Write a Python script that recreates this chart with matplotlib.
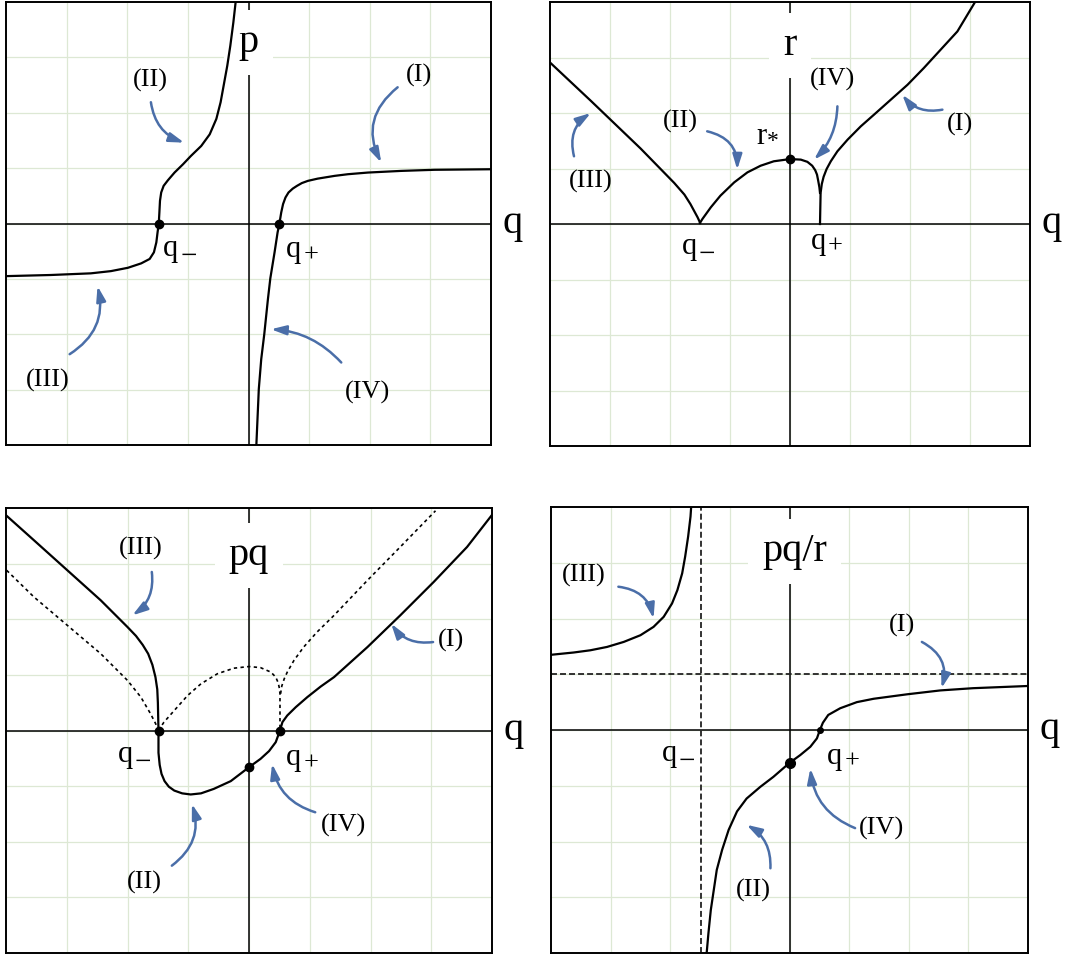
import matplotlib
matplotlib.use("Agg")
import matplotlib.pyplot as plt

plt.rcParams['font.family'] = ['Liberation Serif', 'DejaVu Serif']

# ---- landmark values on the q axis ----
q_minus = -1.48
q_plus = 0.51
r_star = 1.17

# ---- p(q) ----
p_left_q = [-3.98, -3.26, -2.60, -2.27, -1.99, -1.77, -1.63, -1.56, -1.52, -1.50, -1.48,
            -1.47, -1.46, -1.44, -1.40, -1.33, -1.22, -1.08, -0.95, -0.78, -0.64, -0.53,
            -0.46, -0.41, -0.35, -0.30, -0.25, -0.21]
p_left_v = [-0.95, -0.93, -0.90, -0.86, -0.80, -0.72, -0.64, -0.52, -0.34, -0.16, 0.0,
            0.20, 0.41, 0.56, 0.68, 0.78, 0.92, 1.07, 1.22, 1.40, 1.61, 1.89,
            2.19, 2.49, 2.85, 3.21, 3.63, 4.02]
p_right_q = [0.13, 0.17, 0.21, 0.26, 0.32, 0.36, 0.43, 0.48, 0.51, 0.54, 0.57, 0.61, 0.66,
             0.73, 0.80, 0.88, 0.98, 1.14, 1.42, 1.64, 1.97, 2.52, 3.07, 4.02]
p_right_v = [-3.99, -2.99, -2.45, -2.00, -1.37, -0.99, -0.52, -0.16, 0.0, 0.20, 0.35, 0.47, 0.56,
             0.63, 0.68, 0.73, 0.77, 0.81, 0.86, 0.89, 0.92, 0.95, 0.97, 0.98]

# ---- r(q) ----
r_left_q = [-3.99, -3.32, -2.49, -1.93, -1.76, -1.66, -1.59, -1.54, -1.51, -1.50]
r_left_v = [2.90, 2.22, 1.36, 0.74, 0.53, 0.36, 0.22, 0.12, 0.05, 0.02]
r_mid_q = [-1.50, -1.46, -1.40, -1.32, -1.16, -0.93, -0.71, -0.49, -0.27, 0.0, 0.18, 0.29, 0.37,
           0.42, 0.45, 0.47, 0.49, 0.50]
r_mid_v = [0.02, 0.09, 0.18, 0.30, 0.51, 0.75, 0.93, 1.05, 1.13, 1.17, 1.16, 1.12, 1.05,
           0.97, 0.89, 0.78, 0.66, 0.56]
r_right_q = [0.50, 0.51, 0.53, 0.56, 0.61, 0.68, 0.79, 0.96, 1.18, 1.40, 1.68, 1.96, 2.23, 2.51,
             2.79, 3.09]
r_right_v = [0.0, 0.56, 0.72, 0.85, 0.99, 1.13, 1.31, 1.52, 1.76, 1.97, 2.24, 2.51, 2.81, 3.14,
             3.47, 4.01]

# ---- pq(q), solid ----
pq_left_q = [-3.99, -3.54, -2.99, -2.44, -2.00, -1.86, -1.75, -1.66, -1.59, -1.54, -1.51,
             -1.50, -1.49]
pq_left_v = [3.86, 3.42, 2.88, 2.34, 1.86, 1.70, 1.54, 1.38, 1.18, 0.96, 0.74,
             0.50, 0.0]
pq_mid_q = [-1.49, -1.49, -1.47, -1.44, -1.39, -1.32, -1.23, -1.10, -0.96, -0.79, -0.58, -0.30,
            0.0, 0.19, 0.33, 0.44, 0.51]
pq_mid_v = [0.0, -0.40, -0.62, -0.78, -0.91, -1.01, -1.08, -1.13, -1.15, -1.13, -1.05, -0.91,
            -0.66, -0.51, -0.37, -0.21, 0.0]
pq_right_q = [0.51, 0.55, 0.63, 0.77, 0.96, 1.18, 1.40, 1.95, 2.49, 3.04, 3.59, 4.01]
pq_right_v = [0.0, 0.15, 0.27, 0.42, 0.60, 0.79, 0.96, 1.50, 2.07, 2.67, 3.30, 3.89]

# ---- reference curve in the pq panel, dotted ----
ref_left_q = [-3.99, -3.54, -2.99, -2.44, -2.00, -1.78, -1.62, -1.54, -1.49]
ref_left_v = [2.88, 2.40, 1.89, 1.38, 0.90, 0.60, 0.30, 0.13, 0.0]
ref_mid_q = [-1.49, -1.40, -1.23, -1.01, -0.79, -0.52, -0.25, 0.0, 0.19, 0.36, 0.44, 0.48,
             0.50, 0.51, 0.51]
ref_mid_v = [0.0, 0.15, 0.36, 0.63, 0.84, 1.02, 1.12, 1.15, 1.13, 1.05, 0.96, 0.86,
             0.76, 0.66, 0.0]
ref_right_q = [0.52, 0.54, 0.58, 0.63, 0.74, 0.90, 1.12, 1.40, 1.95, 2.49, 3.07]
ref_right_v = [0.66, 0.80, 0.93, 1.05, 1.26, 1.50, 1.77, 2.07, 2.70, 3.30, 3.95]

# ---- pq/r(q) ----
pqr_left_q = [-3.99, -3.62, -3.34, -3.06, -2.78, -2.50, -2.28, -2.11, -1.97, -1.88, -1.80,
              -1.75, -1.70, -1.66, -1.65]
pqr_left_v = [1.35, 1.39, 1.43, 1.49, 1.58, 1.70, 1.85, 2.03, 2.27, 2.51, 2.81,
              3.11, 3.47, 3.83, 3.99]
pqr_right_q = [-1.39, -1.36, -1.32, -1.27, -1.22, -1.13, -1.02, -0.88, -0.72, -0.49, -0.27,
               0.0, 0.18, 0.35, 0.46, 0.51, 0.56, 0.65, 0.85, 1.13, 1.41, 1.97, 2.53, 3.08, 4.01]
pqr_right_v = [-4.01, -3.65, -3.23, -2.87, -2.51, -2.15, -1.79, -1.46, -1.23, -1.02, -0.84,
               -0.59, -0.45, -0.30, -0.15, 0.0, 0.13, 0.27, 0.39, 0.50, 0.56, 0.64, 0.71, 0.75, 0.79]
pqr_limit = 1.0

# ---- styling ----
W, H = 1069, 956
ARROW = '#4a6ea8'
GRID = '#dde8d4'
LW = 1.6

fig = plt.figure(figsize=(W / 100, H / 100), dpi=100)


def make_axes(left, top, right, bottom):
    ax = fig.add_axes([left / W, 1 - bottom / H, (right - left) / W, (bottom - top) / H])
    ax.set_xlim(-4, 4)
    ax.set_ylim(-4, 4)
    ax.set_xticks(range(-3, 4))
    ax.set_yticks(range(-3, 4))
    ax.tick_params(length=0, labelbottom=False, labelleft=False)
    ax.grid(True, color=GRID, lw=0.9, zorder=0)
    ax.set_axisbelow(True)
    for s in ax.spines.values():
        s.set_linewidth(1.4)
        s.set_color('black')
    ax.axhline(0, color='black', lw=1.1, zorder=1)
    ax.axvline(0, color='black', lw=1.1, zorder=1)
    return ax


def axis_names(ax, vname, vx, vy):
    ax.text(vx, vy, vname, fontsize=29, ha='center', va='center', zorder=2,
            bbox=dict(boxstyle='square,pad=0.35', fc='white', ec='none'))
    ax.text(4.36, 0.0, 'q', fontsize=29, ha='center', va='center', clip_on=False)


def tag(ax, text, tx, ty, start, end, rad):
    ax.text(tx, ty, text, fontsize=19, ha='center', va='center', zorder=4)
    ax.annotate('', xy=end, xytext=start,
                arrowprops=dict(arrowstyle='-|>,head_length=0.9,head_width=0.28',
                                connectionstyle=f'arc3,rad={rad}', color=ARROW, lw=1.8,
                                shrinkA=0, shrinkB=0), zorder=4)


def sub_label(ax, x, y, base, sub, sub_dx=12.5, sub_dy=-6, sub_size=21):
    ax.text(x, y, base, fontsize=22, ha='center', va='center', zorder=4)
    ax.annotate(sub, xy=(x, y), xytext=(sub_dx, sub_dy), textcoords='offset points',
                fontsize=sub_size, ha='center', va='center', zorder=4)


def dot(ax, x, y, size=6):
    ax.plot([x], [y], 'o', color='black', ms=size, zorder=5)


MINUS = '\u2212'

# ---------------- p ----------------
ax1 = make_axes(6, 2, 491, 445)
axis_names(ax1, 'p', 0.0, 3.27)
ax1.plot(p_left_q, p_left_v, color='black', lw=LW, zorder=3)
ax1.plot(p_right_q, p_right_v, color='black', lw=LW, zorder=3)
dot(ax1, q_minus, 0)
dot(ax1, q_plus, 0)
sub_label(ax1, -1.28, -0.45, 'q', MINUS)
sub_label(ax1, 0.75, -0.47, 'q', '+', sub_dy=-4, sub_size=19)
tag(ax1, '(II)', -1.62, 2.58, (-1.61, 2.19), (-1.06, 1.46), 0.3)
tag(ax1, '(I)', 2.82, 2.67, (2.46, 2.46), (2.19, 1.10), 0.4)
tag(ax1, '(III)', -3.31, -2.84, (-2.95, -2.36), (-2.49, -1.13), 0.35)
tag(ax1, '(IV)', 1.97, -3.05, (1.53, -2.51), (0.37, -1.91), 0.2)

# ---------------- r ----------------
ax2 = make_axes(550, 2, 1030, 446)
axis_names(ax2, 'r', 0.0, 3.22)
ax2.plot(r_left_q, r_left_v, color='black', lw=LW, zorder=3)
ax2.plot(r_mid_q, r_mid_v, color='black', lw=LW, zorder=3)
ax2.plot(r_right_q, r_right_v, color='black', lw=LW, zorder=3)
dot(ax2, 0.0, r_star)
sub_label(ax2, -0.47, 1.58, 'r', '*', sub_dx=8, sub_dy=-4, sub_size=17)
sub_label(ax2, -1.67, -0.41, 'q', MINUS)
sub_label(ax2, 0.47, -0.31, 'q', '+', sub_dy=-4, sub_size=19)
tag(ax2, '(IV)', 0.71, 2.60, (0.79, 2.12), (0.40, 1.16), -0.2)
tag(ax2, '(II)', -1.82, 1.85, (-1.38, 1.67), (-0.88, 0.98), -0.4)
tag(ax2, '(I)', 2.84, 1.79, (2.54, 2.06), (1.87, 2.33), -0.3)
tag(ax2, '(III)', -3.32, 0.77, (-3.60, 1.22), (-3.32, 2.00), -0.35)

# ---------------- pq ----------------
ax3 = make_axes(6, 508, 492, 953)
axis_names(ax3, 'pq', 0.0, 3.15)
dotted = dict(color='black', lw=1.2, ls=(0, (2, 2)), zorder=3)
ax3.plot(ref_left_q, ref_left_v, **dotted)
ax3.plot(ref_mid_q, ref_mid_v, **dotted)
ax3.plot(ref_right_q, ref_right_v, **dotted)
ax3.plot(pq_left_q, pq_left_v, color='black', lw=LW, zorder=3)
ax3.plot(pq_mid_q, pq_mid_v, color='black', lw=LW, zorder=3)
ax3.plot(pq_right_q, pq_right_v, color='black', lw=LW, zorder=3)
dot(ax3, q_minus, 0)
dot(ax3, q_plus, 0)
dot(ax3, 0.0, pq_mid_v[pq_mid_q.index(0.0)])
sub_label(ax3, -2.03, -0.43, 'q', MINUS)
sub_label(ax3, 0.74, -0.49, 'q', '+', sub_dy=-4, sub_size=19)
tag(ax3, '(III)', -1.79, 3.27, (-1.60, 2.85), (-1.92, 2.07), -0.3)
tag(ax3, '(I)', 3.33, 1.62, (3.03, 1.59), (2.34, 1.92), -0.3)
tag(ax3, '(IV)', 1.55, -1.71, (1.09, -1.47), (0.38, -0.60), -0.3)
tag(ax3, '(II)', -1.73, -2.73, (-1.27, -2.43), (-0.94, -1.32), 0.35)

# ---------------- pq/r ----------------
ax4 = make_axes(551, 507, 1028, 953)
axis_names(ax4, 'pq/r', 0.09, 3.20)
dashed = dict(color='#222222', lw=1.3, ls=(0, (3.3, 1.7)), zorder=2.5)
ax4.axvline(q_minus, **dashed)
ax4.axhline(pqr_limit, **dashed)
ax4.plot(pqr_left_q, pqr_left_v, color='black', lw=LW, zorder=3)
ax4.plot(pqr_right_q, pqr_right_v, color='black', lw=LW, zorder=3)
dot(ax4, 0.0, pqr_right_v[pqr_right_q.index(0.0)], size=7)
dot(ax4, q_plus, 0, size=4)
sub_label(ax4, -2.02, -0.43, 'q', MINUS)
sub_label(ax4, 0.75, -0.47, 'q', '+', sub_dy=-4, sub_size=19)
tag(ax4, '(III)', -3.45, 2.78, (-2.87, 2.57), (-2.28, 2.00), -0.35)
tag(ax4, '(I)', 1.88, 1.88, (2.22, 1.58), (2.55, 0.75), -0.4)
tag(ax4, '(IV)', 1.55, -1.76, (1.10, -1.76), (0.35, -0.69), -0.3)
tag(ax4, '(II)', -0.60, -2.87, (-0.32, -2.48), (-0.72, -1.70), 0.3)

fig.savefig('out.png', dpi=100, facecolor='white')
